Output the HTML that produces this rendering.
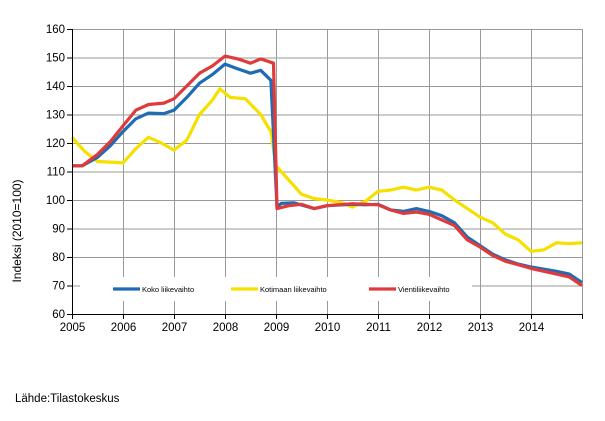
<!DOCTYPE html>
<html><head><meta charset="utf-8"><style>
body{margin:0;background:#fff;width:605px;height:416px;overflow:hidden}
svg{font-family:"Liberation Sans",sans-serif}
</style></head><body>
<svg id="s" width="605" height="416" xmlns="http://www.w3.org/2000/svg">
<g id="grid" stroke="#999" stroke-width="1"></g>
<rect x="80" y="277" width="392" height="24" fill="#fff"/>
<g id="lines" fill="none" stroke-width="3.2" stroke-linejoin="round"></g>
<line x1="72.5" y1="29" x2="72.5" y2="314" stroke="#000"/>
<line x1="72" y1="314.5" x2="582" y2="314.5" stroke="#000"/>
<g id="lab" font-size="11.5" fill="#000"></g>
<text transform="translate(21,231) rotate(-90)" text-anchor="middle" font-size="12">Indeksi  (2010=100)</text>
<line x1="113" y1="289" x2="140" y2="289" stroke="#1f6cb4" stroke-width="3.2"/>
<text x="142" y="292" font-size="7.5">Koko liikevaihto</text>
<line x1="231" y1="289" x2="258" y2="289" stroke="#f5e000" stroke-width="3.2"/>
<text x="260" y="292" font-size="7.5">Kotimaan liikevaihto</text>
<line x1="369" y1="289" x2="396" y2="289" stroke="#e03a3a" stroke-width="3.2"/>
<text x="398" y="292" font-size="7.5">Vientiliikevaihto</text>
<text x="15" y="402" font-size="11.5">Lähde:Tilastokeskus</text>
</svg>
<script>
var X=t=>72+51*(t-2005),Y=v=>314-2.85*(v-60);
var g=document.getElementById('grid'),lab=document.getElementById('lab'),L=document.getElementById('lines');
var h='',l='';
for(var v=60;v<=160;v+=10){var y=Y(v);if(v>60)h+='<line x1="72" y1="'+(y+.5)+'" x2="582" y2="'+(y+.5)+'"/>';h+='<line x1="67" y1="'+(y+.5)+'" x2="72" y2="'+(y+.5)+'" stroke="#000"/>';l+='<text x="65" y="'+(y+4)+'" text-anchor="end">'+v+'</text>';}
for(var t=2005;t<=2015;t++){var x=Math.round(X(t))+.5;if(t>2005)h+='<line x1="'+x+'" y1="29" x2="'+x+'" y2="314"/>';h+='<line x1="'+x+'" y1="314" x2="'+x+'" y2="319" stroke="#000"/>';if(t<2015)l+='<text x="'+x+'" y="331" text-anchor="middle">'+t+'</text>';}
g.innerHTML=h;lab.innerHTML=l;
function P(a,c){var d='';for(var i=0;i<a.length;i+=2)d+=(i?'L':'M')+X(a[i]).toFixed(1)+','+Y(a[i+1]).toFixed(1);return '<path d="'+d+'" stroke="'+c+'"/>';}
var yel=[2005,122,2005.25,117,2005.5,113.5,2005.75,113.3,2006,113,2006.25,118,2006.5,122,2006.75,120,2007,117.5,2007.25,121,2007.5,130,2007.75,135,2007.9,139,2008.1,136,2008.4,135.5,2008.7,130,2008.9,124,2009,112,2009.25,107,2009.5,102,2009.75,100.5,2010,100,2010.3,99,2010.5,97.5,2010.75,99.5,2011,103,2011.25,103.5,2011.5,104.5,2011.75,103.5,2012,104.5,2012.25,103.5,2012.5,100,2012.75,97,2013,94,2013.25,92,2013.5,88,2013.75,86,2014,82,2014.25,82.5,2014.5,85,2014.75,84.7,2015,85];
var blu=[2005,112,2005.2,112,2005.5,115,2005.75,119,2006,124,2006.25,128.5,2006.5,130.5,2006.8,130.3,2007,131.5,2007.25,136,2007.5,141,2007.75,144,2008,147.7,2008.25,146,2008.5,144.5,2008.7,145.5,2008.9,142,2009.02,97.5,2009.1,98.8,2009.35,99,2009.75,97,2010,98,2010.5,98.5,2010.75,98.3,2011,98.5,2011.25,96.5,2011.5,96,2011.75,97,2012,96,2012.25,94.5,2012.5,92,2012.75,87,2013,84,2013.25,81,2013.5,79,2013.75,77.5,2014,76.5,2014.5,75,2014.75,74,2015,71];
var red=[2005,112,2005.2,112,2005.5,116,2005.75,120.5,2006,126,2006.25,131.5,2006.5,133.5,2006.8,134,2007,135.5,2007.25,140,2007.5,144.5,2007.75,147,2008,150.5,2008.25,149.5,2008.5,148,2008.7,149.5,2008.95,148,2009.02,97,2009.25,98,2009.5,98.5,2009.75,97,2010,98,2010.5,98.7,2011,98.3,2011.25,96.5,2011.5,95.3,2011.75,95.8,2012,95,2012.25,93,2012.5,91,2012.75,86,2013,83.5,2013.25,80.5,2013.5,78.5,2013.75,77.3,2014,76,2014.5,74,2014.75,73,2015,70];
L.innerHTML=P(yel,'#f5e000')+P(blu,'#1f6cb4')+P(red,'#e03a3a');
</script>
</body></html>
